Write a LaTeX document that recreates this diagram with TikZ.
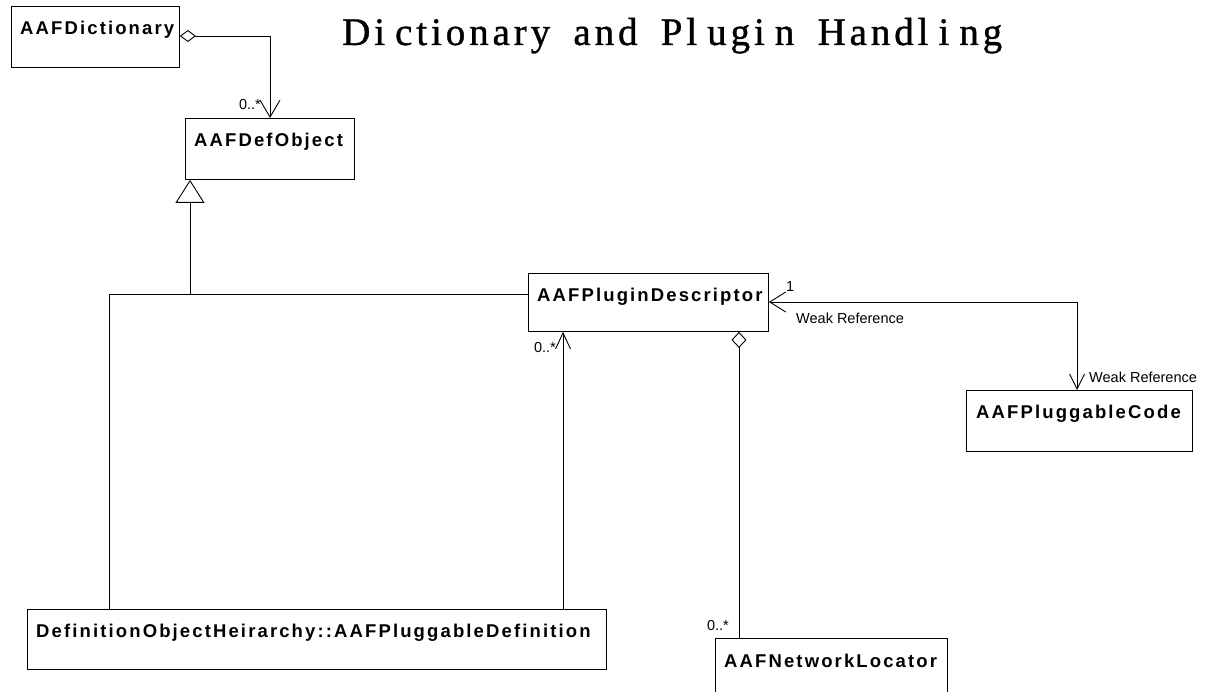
\documentclass[tikz,border=0pt]{standalone}
\usepackage{fontspec}
\setmainfont{Liberation Sans}
\newfontfamily\boxfont[LetterSpace=11.5]{Liberation Sans}
\newfontfamily\titlefont[LetterSpace=10,FakeBold=1]{Liberation Serif}
\usetikzlibrary{arrows.meta}
\tikzset{
  classbox/.style={draw=black, line width=0.9pt, anchor=north west, inner sep=0pt},
  classlbl/.style={anchor=base west, inner sep=0pt, font=\boxfont\bfseries\fontsize{18.5}{20}\selectfont},
  mult/.style={inner sep=0pt, font=\fontsize{14.5}{16}\selectfont},
  conn/.style={draw=black, line width=0.9pt},
}
\begin{document}
\begin{tikzpicture}[x=1pt,y=1pt]
\clip (0,0) rectangle (1209,-692);
\fill[white] (0,0) rectangle (1209,-692);

% title, spread over its full width; small gaps follow some i and l
\node[anchor=base west, inner sep=0pt] (title) at (342,-45)
  {\titlefont\fontsize{39}{41}\selectfont
   \makebox[660pt][s]{Di\hspace{10pt}ctionary\hfill and\hfill
     Pl\hspace{10pt}ugi\hspace{10pt}n\hfill Handl\hspace{10pt}i\hspace{10pt}ng}};

% classes
\node[classbox, minimum width=168pt, minimum height=61pt] (dict) at (11,-6) {};
\node[classlbl] at ([xshift=9pt,yshift=-28.5pt]dict.north west) {AAFDictionary};

\node[classbox, minimum width=169pt, minimum height=61pt] (defobj) at (185,-118) {};
\node[classlbl] at ([xshift=9pt,yshift=-28.5pt]defobj.north west) {AAFDefObject};

\node[classbox, minimum width=240pt, minimum height=58pt] (plugin) at (528,-273) {};
\node[classlbl] at ([xshift=9pt,yshift=-28.5pt]plugin.north west) {AAFPluginDescriptor};

\node[classbox, minimum width=226pt, minimum height=61pt] (code) at (966,-390) {};
\node[classlbl] at ([xshift=10pt,yshift=-28.5pt]code.north west) {AAFPluggableCode};

\node[classbox, minimum width=579pt, minimum height=60pt] (pdef) at (27,-609) {};
\node[classlbl] at ([xshift=9pt,yshift=-28.5pt]pdef.north west) {DefinitionObjectHeirarchy::AAFPluggableDefinition};

\node[classbox, minimum width=232pt, minimum height=60pt] (netloc) at (715,-638) {};
\node[classlbl] at ([xshift=9pt,yshift=-29.5pt]netloc.north west) {AAFNetworkLocator};

% bend and junction points
\coordinate (dictbend) at (270,-36);
\coordinate (genj) at (190,-294);
\coordinate (genl) at (109,-294);
\coordinate (pdx) at (563,-450);
\coordinate (nlx) at (739,-450);
\coordinate (wr) at (1077,-302);

% dictionary aggregates definition objects
\draw[conn, {Diamond[open,length=16pt,width=12pt]}-{Straight Barb[length=17pt,width=20pt]}]
  (dict.east |- dictbend) -- (dictbend) -- (defobj.north -| dictbend);
\node[mult, anchor=east] at (261,-105) {0..*};

% generalization
\draw[conn, {Triangle[open,length=23pt,width=29pt]}-] (defobj.south -| genj) -- (genj);
\draw[conn] (pdef.north -| genl) -- (genl) -- (plugin.west |- genl);

% pluggable definition -> plugin descriptor
\draw[conn, -{Straight Barb[length=16pt,width=15pt]}] (pdef.north -| pdx) -- (plugin.south -| pdx);
\node[mult, anchor=east] at (556,-348) {0..*};

% plugin descriptor aggregates network locators
\draw[conn, {Diamond[open,length=16pt,width=15pt]}-] (plugin.south -| nlx) -- (netloc.north -| nlx);
\node[mult, anchor=east] at (729,-626) {0..*};

% weak references between plugin descriptor and pluggable code
\draw[conn, {Straight Barb[length=16pt,width=20pt]}-{Straight Barb[length=15pt,width=15pt]}]
  (plugin.east |- wr) -- (wr) -- (code.north -| wr);
\node[mult, anchor=west] at (786,-287) {1};
\node[mult, anchor=west] at (796,-318) {Weak Reference};
\node[mult, anchor=west] at (1089,-377) {Weak Reference};
\end{tikzpicture}
\end{document}
